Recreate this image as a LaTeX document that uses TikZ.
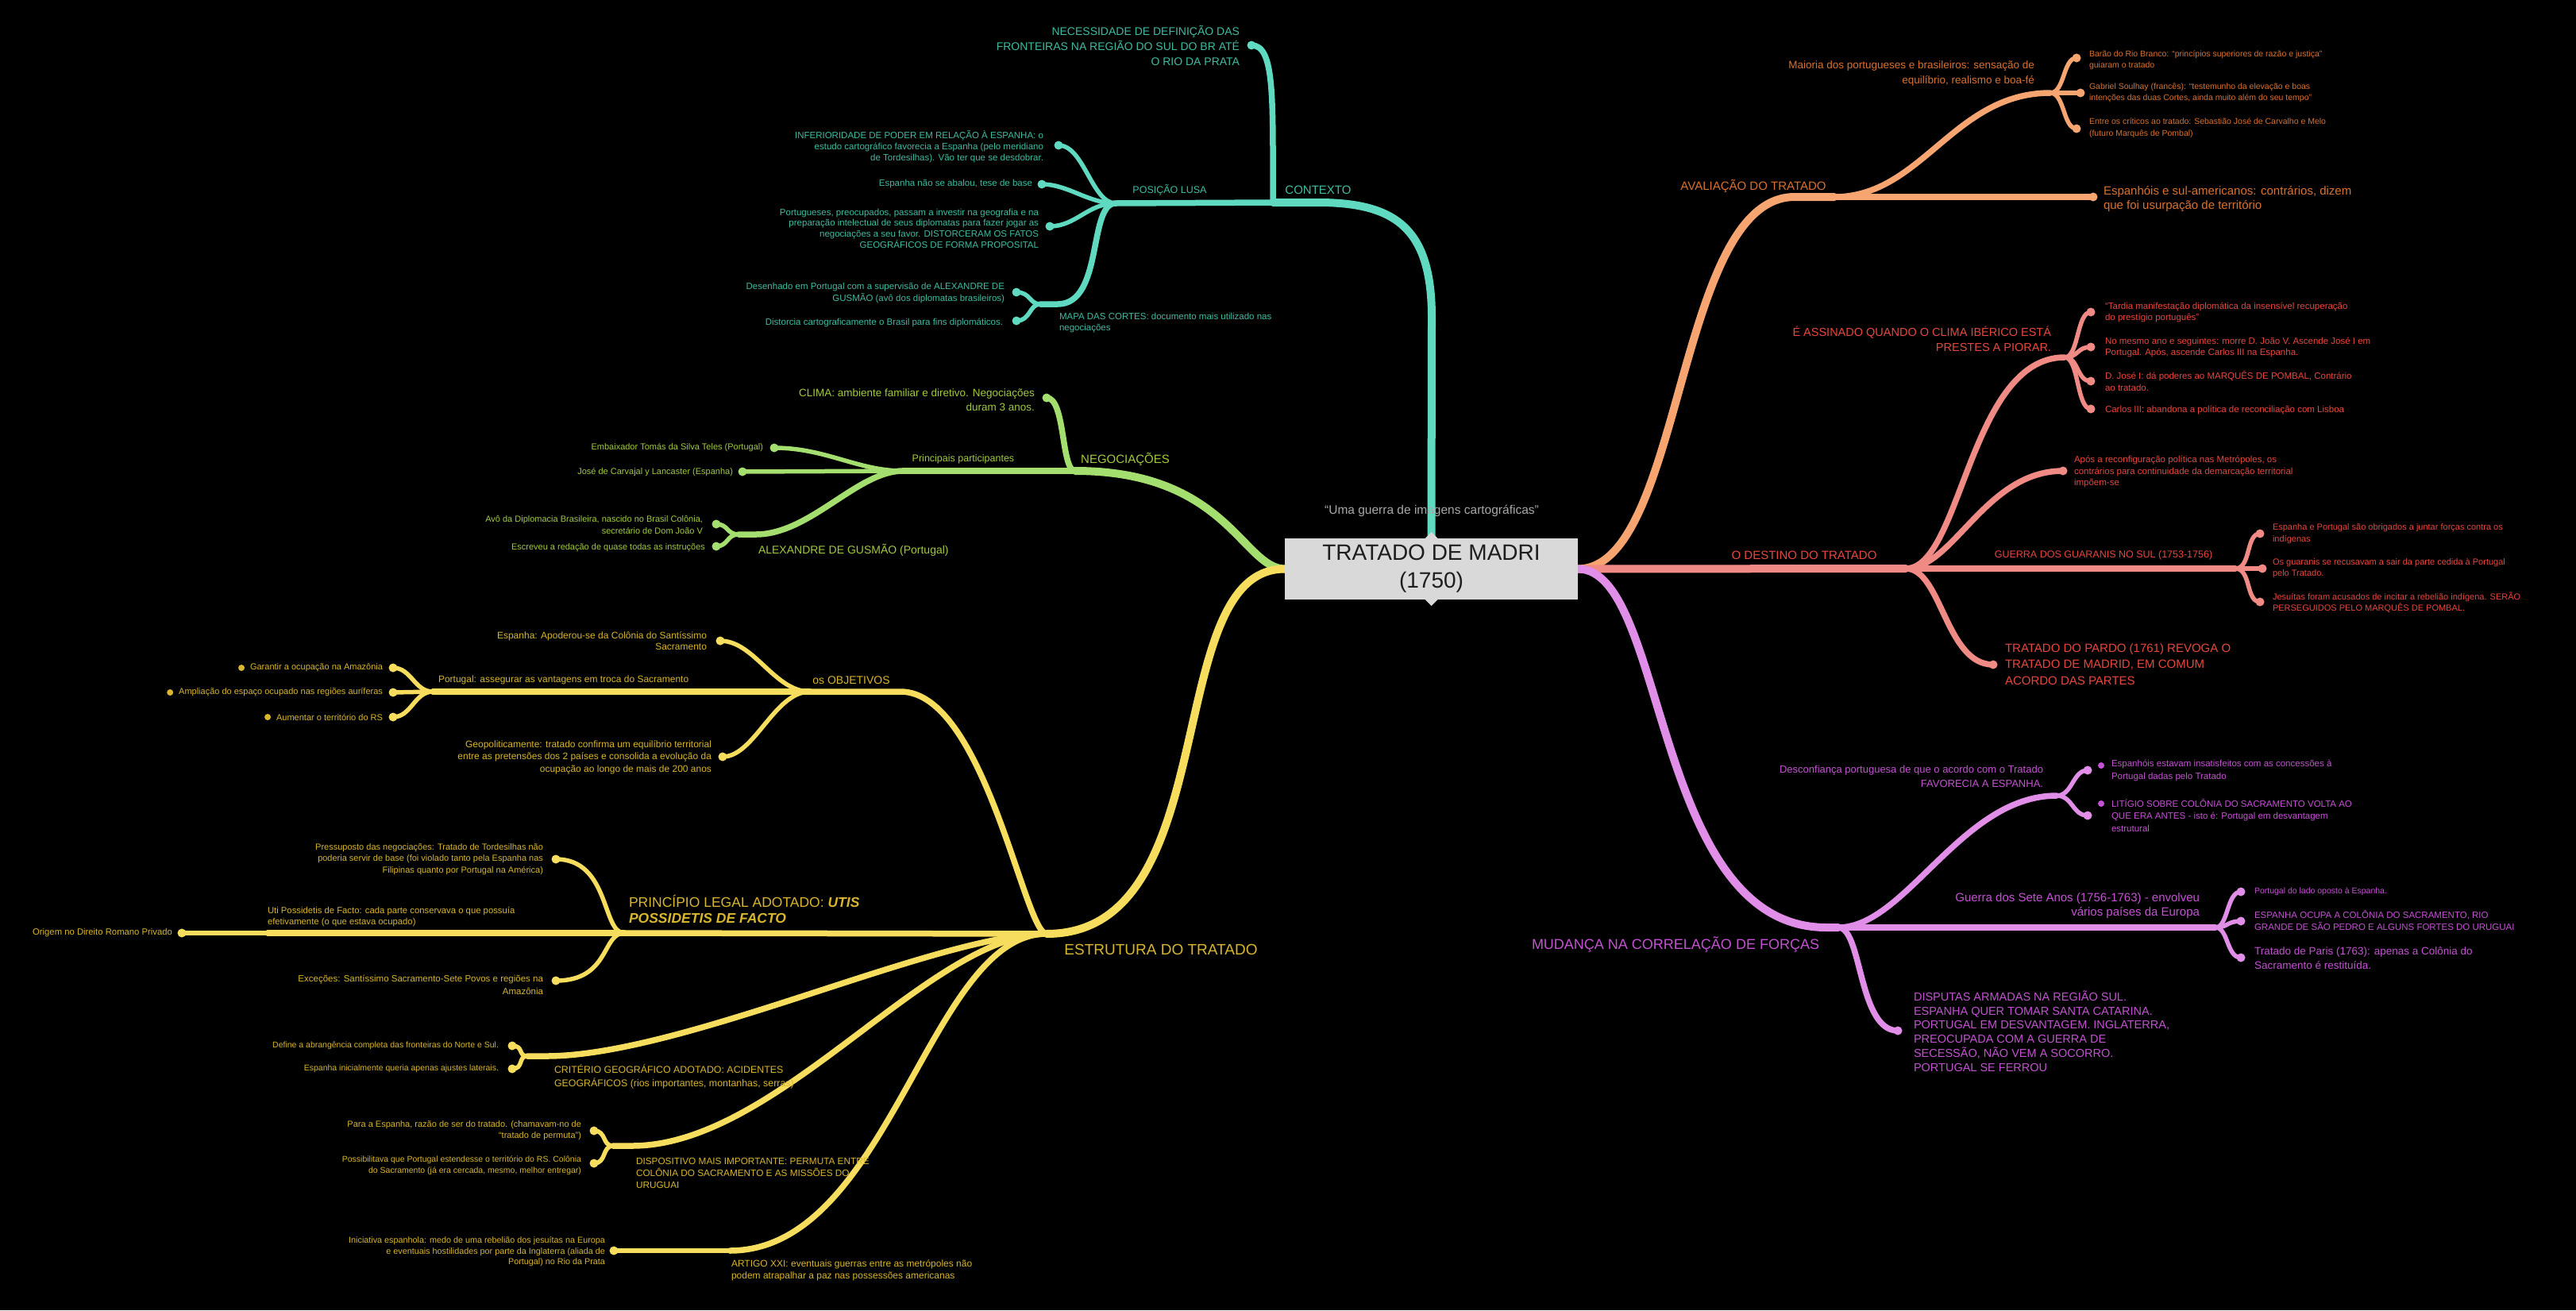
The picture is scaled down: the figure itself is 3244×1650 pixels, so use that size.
\documentclass[tikz,border=0pt]{standalone}
\usepackage{fontspec}
\setmainfont{Liberation Sans}
\pgfdeclarelayer{back}
\pgfdeclarelayer{lines}
\pgfsetlayers{back,lines,main}
\definecolor{tealL}{HTML}{5FD9C0}
\definecolor{tealT}{HTML}{3FBCA2}
\definecolor{greenL}{HTML}{A4DE6E}
\definecolor{greenT}{HTML}{A2CB3C}
\definecolor{yelL}{HTML}{F6DD5E}
\definecolor{yelT}{HTML}{D8B62E}
\definecolor{orgL}{HTML}{F6A470}
\definecolor{orgT}{HTML}{D87230}
\definecolor{redL}{HTML}{F08A85}
\definecolor{redT}{HTML}{E8473F}
\definecolor{purL}{HTML}{E08EE8}
\definecolor{purT}{HTML}{C452D2}
\definecolor{boxC}{HTML}{D9D9D9}
\definecolor{ctrT}{HTML}{1E1E1E}
\definecolor{quoteT}{HTML}{A8A8A8}
\newcommand\fsz[2]{\fontsize{#1}{#2}\selectfont}
\tikzset{
  every node/.style={inner sep=0pt, outer sep=0pt},
  tR/.style={anchor=east, align=right},
  tL/.style={anchor=west, align=left},
  tC/.style={anchor=center, align=center},
  trunk/.style={line width=10pt, line cap=round},
  brl/.style={line width=7.5pt, line cap=round},
  lfl/.style={line width=5.5pt, line cap=round},
  dotn/.style={circle, minimum size=11pt},
  mkn/.style={circle, minimum size=8pt},
}
\begin{document}
\begin{tikzpicture}[x=1pt,y=-1pt]
\begin{pgfonlayer}{back}
\fill[black] (0,0) rectangle (3244,1650);
\end{pgfonlayer}
\useasboundingbox (0,0) rectangle (3244,1650);

% ---------------- center
\node[fill=boxC, minimum width=369pt, minimum height=77pt, tC, text=ctrT, font=\fsz{28}{35}] (ctr) at (1802.5,716.5) {TRATADO DE MADRI\\(1750)};
\fill[boxC] ([xshift=-8pt]ctr.north) -- ([yshift=8pt]ctr.north) -- ([xshift=8pt]ctr.north) -- cycle;
\fill[boxC] ([xshift=-8pt]ctr.south) -- ([yshift=-8pt]ctr.south) -- ([xshift=8pt]ctr.south) -- cycle;
\node[tC, text=quoteT, font=\fsz{15.5}{18}] (quote) at (1803,643) {“Uma guerra de imagens cartográficas”};

% ---------------- TEAL
\begin{scope}[every node/.append style={text=tealT}]
\node[tC, font=\fsz{15}{18}] (ctx) at (1660,239) {CONTEXTO};
\node[tR, font=\fsz{14}{19}] (nec) at (1561,57.5) {NECESSIDADE DE DEFINIÇÃO DAS\\FRONTEIRAS NA REGIÃO DO SUL DO BR ATÉ\\O RIO DA PRATA};
\node[tC, font=\fsz{12.5}{15}] (lusa) at (1473,239) {POSIÇÃO LUSA};
\node[tR, font=\fsz{11.5}{13.7}] (inf) at (1314,184.5) {INFERIORIDADE DE PODER EM RELAÇÃO À ESPANHA: o\\estudo cartográfico favorecia a Espanha (pelo meridiano\\de Tordesilhas). Vão ter que se desdobrar.};
\node[tR, font=\fsz{11.5}{14}] (abal) at (1300,232) {Espanha não se abalou, tese de base};
\node[tR, font=\fsz{11.5}{13.7}] (prep) at (1308,287.5) {Portugueses, preocupados, passam a investir na geografia e na\\preparação intelectual de seus diplomatas para fazer jogar as\\negociações a seu favor. DISTORCERAM OS FATOS\\GEOGRÁFICOS DE FORMA PROPOSITAL};
\node[tL, font=\fsz{11.5}{14}] (mapa) at (1334,407) {MAPA DAS CORTES: documento mais utilizado nas\\negociações};
\node[tR, font=\fsz{11.5}{15}] (desh) at (1265,369.5) {Desenhado em Portugal com a supervisão de ALEXANDRE DE\\GUSMÃO (avô dos diplomatas brasileiros)};
\node[tR, font=\fsz{11.5}{14}] (dist) at (1263,406) {Distorcia cartograficamente o Brasil para fins diplomáticos.};
\end{scope}
\node[dotn, fill=tealL] (dNec) at (1576,57) {};
\node[dotn, fill=tealL] (dInf) at (1333,183) {};
\node[dotn, fill=tealL] (dAbal) at (1312,232) {};
\node[dotn, fill=tealL] (dPrep) at (1322,285) {};
\node[dotn, fill=tealL] (dDesh) at (1280,368) {};
\node[dotn, fill=tealL] (dDist) at (1280,404) {};
\coordinate (jCtx) at (1603,255);
\coordinate (tA) at (1803,400);
\coordinate (tB) at (1660,255);
\coordinate (jLusa) at (1405,256);
\coordinate (jMapa) at (1332,383);
\coordinate (jMapaF) at (1310,383);

% ---------------- GREEN
\begin{scope}[every node/.append style={text=greenT}]
\node[tC, font=\fsz{15}{18}] (neg) at (1417,578) {NEGOCIAÇÕES};
\node[tR, font=\fsz{13.5}{18}] (clima) at (1303,504) {CLIMA: ambiente familiar e diretivo. Negociações\\duram 3 anos.};
\node[tC, font=\fsz{12.5}{15}] (pp) at (1213,578) {Principais participantes};
\node[tR, font=\fsz{11}{14}] (tomas) at (961,564) {Embaixador Tomás da Silva Teles (Portugal)};
\node[tR, font=\fsz{11}{14}] (jose) at (923,595) {José de Carvajal y Lancaster (Espanha)};
\node[tL, font=\fsz{14}{17}] (alex) at (955,693) {ALEXANDRE DE GUSMÃO (Portugal)};
\node[tR, font=\fsz{11}{15}] (avo) at (885,661.5) {Avô da Diplomacia Brasileira, nascido no Brasil Colônia,\\secretário de Dom João V};
\node[tR, font=\fsz{11}{14}] (escr) at (888,690) {Escreveu a redação de quase todas as instruções};
\end{scope}
\node[dotn, fill=greenL] (dClima) at (1318,501) {};
\node[dotn, fill=greenL] (dTomas) at (975,564) {};
\node[dotn, fill=greenL] (dJose) at (935,594) {};
\node[dotn, fill=greenL] (dAvo) at (902,660) {};
\node[dotn, fill=greenL] (dEscr) at (902,688) {};
\coordinate (jNeg) at (1354,593);
\coordinate (jPP) at (1137,593);
\coordinate (jAlex) at (952,673);
\coordinate (jAlexF) at (930,673);

% ---------------- YELLOW
\begin{scope}[every node/.append style={text=yelT}]
\node[tC, font=\fsz{19}{22}] (est) at (1462,1196) {ESTRUTURA DO TRATADO};
\node[tC, font=\fsz{14}{17}] (obj) at (1072,857) {os OBJETIVOS};
\node[tR, font=\fsz{12}{14.5}] (espA) at (890,807) {Espanha: Apoderou-se da Colônia do Santíssimo\\Sacramento};
\node[tL, font=\fsz{12}{15}] (portA) at (552,856) {Portugal: assegurar as vantagens em troca do Sacramento};
\node[tR, font=\fsz{11}{14}] (gar) at (482,841) {Garantir a ocupação na Amazônia};
\node[tR, font=\fsz{11}{14}] (amp) at (482,872) {Ampliação do espaço ocupado nas regiões auríferas};
\node[tR, font=\fsz{11}{14}] (aum) at (482,903) {Aumentar o território do RS};
\node[tR, font=\fsz{12}{15.5}] (geo) at (896,953.5) {Geopoliticamente: tratado confirma um equilíbrio territorial\\entre as pretensões dos 2 países e consolida a evolução da\\ocupação ao longo de mais de 200 anos};
\node[tL, font=\fsz{17.5}{20}] (prin) at (792,1145) {PRINCÍPIO LEGAL ADOTADO: \textbf{\textit{UTIS}}\\\textbf{\textit{POSSIDETIS DE FACTO}}};
\node[tR, font=\fsz{11}{14.5}] (press) at (684,1082) {Pressuposto das negociações: Tratado de Tordesilhas não\\poderia servir de base (foi violado tanto pela Espanha nas\\Filipinas quanto por Portugal na América)};
\node[tL, font=\fsz{11.3}{14}] (uti) at (337,1154) {Uti Possidetis de Facto: cada parte conservava o que possuía\\efetivamente (o que estava ocupado)};
\node[tR, font=\fsz{11.3}{14}] (orig) at (217,1175) {Origem no Direito Romano Privado};
\node[tR, font=\fsz{11.5}{16}] (exc) at (684,1240) {Exceções: Santíssimo Sacramento-Sete Povos e regiões na\\Amazônia};
\node[tL, font=\fsz{12.4}{17}] (crit) at (698,1355.5) {CRITÉRIO GEOGRÁFICO ADOTADO: ACIDENTES\\GEOGRÁFICOS (rios importantes, montanhas, serras)};
\node[tR, font=\fsz{10.5}{13}] (def) at (628,1317) {Define a abrangência completa das fronteiras do Norte e Sul.};
\node[tR, font=\fsz{10.5}{13}] (espI) at (628,1346) {Espanha inicialmente queria apenas ajustes laterais.};
\node[tL, font=\fsz{11.8}{15}] (disp) at (801,1477) {DISPOSITIVO MAIS IMPORTANTE: PERMUTA ENTRE\\COLÔNIA DO SACRAMENTO E AS MISSÕES DO\\URUGUAI};
\node[tR, font=\fsz{11}{14}] (para) at (732,1424) {Para a Espanha, razão de ser do tratado. (chamavam-no de\\“tratado de permuta”)};
\node[tR, font=\fsz{10.5}{13.5}] (poss) at (732,1467.5) {Possibilitava que Portugal estendesse o território do RS. Colônia\\do Sacramento (já era cercada, mesmo, melhor entregar)};
\node[tL, font=\fsz{12}{15}] (art) at (921,1599.5) {ARTIGO XXI: eventuais guerras entre as metrópoles não\\podem atrapalhar a paz nas possessões americanas};
\node[tR, font=\fsz{10.8}{13.5}] (ini) at (762,1576.5) {Iniciativa espanhola: medo de uma rebelião dos jesuítas na Europa\\e eventuais hostilidades por parte da Inglaterra (aliada de\\Portugal) no Rio da Prata};
\end{scope}
\node[mkn, fill=yelT] (mk1) at ([xshift=-11pt]gar.west) {};
\node[mkn, fill=yelT] (mk2) at ([xshift=-11pt]amp.west) {};
\node[mkn, fill=yelT] (mk3) at ([xshift=-11pt]aum.west) {};
\node[dotn, fill=yelL] (dEspA) at (907,807) {};
\node[dotn, fill=yelL] (dGar) at (495,841) {};
\node[dotn, fill=yelL] (dAmp) at (495,872) {};
\node[dotn, fill=yelL] (dAum) at (495,903) {};
\node[dotn, fill=yelL] (dGeo) at (910,953) {};
\node[dotn, fill=yelL] (dPress) at (700,1082) {};
\node[dotn, fill=yelL] (dOrig) at (229,1175) {};
\node[dotn, fill=yelL] (dExc) at (700,1235) {};
\node[dotn, fill=yelL] (dDef) at (645,1317) {};
\node[dotn, fill=yelL] (dEspI) at (645,1346) {};
\node[dotn, fill=yelL] (dPara) at (748,1424) {};
\node[dotn, fill=yelL] (dPoss) at (748,1465) {};
\node[dotn, fill=yelL] (dIni) at (773,1575) {};
\coordinate (jEst) at (1318,1176);
\coordinate (jObj) at (1020,871);
\coordinate (eObj) at (1134,871);
\coordinate (jPort) at (545,871);
\coordinate (jPrin) at (786,1175);
\coordinate (jUti) at (337,1175);
\coordinate (jCrit) at (688,1330);
\coordinate (jCritF) at (664,1330);
\coordinate (jDisp) at (796,1443);
\coordinate (jDispF) at (772,1443);
\coordinate (jArt) at (919,1575);

% ---------------- ORANGE
\begin{scope}[every node/.append style={text=orgT}]
\node[tC, font=\fsz{15}{18}] (aval) at (2208,234) {AVALIAÇÃO DO TRATADO};
\node[tR, font=\fsz{13.5}{19}] (mai) at (2562,92.5) {Maioria dos portugueses e brasileiros: sensação de\\equilíbrio, realismo e boa-fé};
\node[tL, font=\fsz{10.5}{14.5}] (barao) at (2631,75.5) {Barão do Rio Branco: “princípios superiores de razão e justiça”\\guiaram o tratado};
\node[tL, font=\fsz{10.5}{14.5}] (gab) at (2631,117) {Gabriel Soulhay (francês): “testemunho da elevação e boas\\intenções das duas Cortes, ainda muito além do seu tempo”};
\node[tL, font=\fsz{10.5}{14.5}] (entre) at (2631,161) {Entre os críticos ao tratado: Sebastião José de Carvalho e Melo\\(futuro Marquês de Pombal)};
\node[tL, font=\fsz{15}{18}] (espS) at (2649,250.5) {Espanhóis e sul-americanos: contrários, dizem\\que foi usurpação de território};
\end{scope}
\node[dotn, fill=orgL] (dBarao) at (2615,73) {};
\node[dotn, fill=orgL] (dGab) at (2620,117) {};
\node[dotn, fill=orgL] (dEntre) at (2615,162) {};
\node[dotn, fill=orgL] (dEspS) at (2636,248) {};
\coordinate (eAval) at (2260,248);
\coordinate (jAval) at (2310,248);
\coordinate (jMai) at (2582,117);

% ---------------- RED
\begin{scope}[every node/.append style={text=redT}]
\node[tC, font=\fsz{15}{18}] (dest) at (2272,699) {O DESTINO DO TRATADO};
\node[tR, font=\fsz{14.5}{19}] (ass) at (2583,426.5) {É ASSINADO QUANDO O CLIMA IBÉRICO ESTÁ\\PRESTES A PIORAR.};
\node[tL, font=\fsz{11.5}{14}] (tard) at (2651,393) {“Tardia manifestação diplomática da insensível recuperação\\do prestígio português”};
\node[tL, font=\fsz{11.5}{14}] (mesmo) at (2651,437) {No mesmo ano e seguintes: morre D. João V. Ascende José I em\\Portugal. Após, ascende Carlos III na Espanha.};
\node[tL, font=\fsz{11.5}{15}] (joseI) at (2651,480.5) {D. José I: dá poderes ao MARQUÊS DE POMBAL, Contrário\\ao tratado.};
\node[tL, font=\fsz{11.5}{14}] (carlos) at (2651,516) {Carlos III: abandona a política de reconciliação com Lisboa};
\node[tL, font=\fsz{11.5}{14.5}] (apos) at (2612,594) {Após a reconfiguração política nas Metrópoles, os\\contrários para continuidade da demarcação territorial\\impõem-se};
\node[tC, font=\fsz{12.5}{15}] (guer) at (2649,699) {GUERRA DOS GUARANIS NO SUL (1753-1756)};
\node[tL, font=\fsz{11}{15}] (espP) at (2862,672.5) {Espanha e Portugal são obrigados a juntar forças contra os\\indígenas};
\node[tL, font=\fsz{11}{14}] (gua) at (2862,716) {Os guaranis se recusavam a sair da parte cedida à Portugal\\pelo Tratado.};
\node[tL, font=\fsz{11}{14}] (jes) at (2862,759) {Jesuítas foram acusados de incitar a rebelião indígena. SERÃO\\PERSEGUIDOS PELO MARQUÊS DE POMBAL.};
\node[tL, font=\fsz{15}{20.5}] (pardo) at (2525,836.5) {TRATADO DO PARDO (1761) REVOGA O\\TRATADO DE MADRID, EM COMUM\\ACORDO DAS PARTES};
\end{scope}
\node[dotn, fill=redL] (dTard) at (2633,393) {};
\node[dotn, fill=redL] (dMesmo) at (2633,437) {};
\node[dotn, fill=redL] (dJoseI) at (2633,480) {};
\node[dotn, fill=redL] (dCarlos) at (2633,515) {};
\node[dotn, fill=redL] (dApos) at (2598,593) {};
\node[dotn, fill=redL] (dEspP) at (2846,672) {};
\node[dotn, fill=redL] (dGua) at (2849,716) {};
\node[dotn, fill=redL] (dJes) at (2846,758) {};
\node[dotn, fill=redL] (dPardo) at (2510,837) {};
\coordinate (jDest) at (2400,716);
\coordinate (jAss) at (2600,450);
\coordinate (jGuer) at (2815,716);

% ---------------- PURPLE
\begin{scope}[every node/.append style={text=purT}]
\node[tC, font=\fsz{18}{21}] (mud) at (2110,1189) {MUDANÇA NA CORRELAÇÃO DE FORÇAS};
\node[tR, font=\fsz{13}{18}] (desc) at (2573,978) {Desconfiança portuguesa de que o acordo com o Tratado\\FAVORECIA A ESPANHA.};
\node[tL, font=\fsz{11.5}{15.5}] (insat) at (2659,970.5) {Espanhóis estavam insatisfeitos com as concessões à\\Portugal dadas pelo Tratado};
\node[tL, font=\fsz{11.5}{15.5}] (lit) at (2659,1027) {LITÍGIO SOBRE COLÔNIA DO SACRAMENTO VOLTA AO\\QUE ERA ANTES - isto é: Portugal em desvantagem\\estrutural};
\node[tR, font=\fsz{15}{18}] (sete) at (2770,1141) {Guerra dos Sete Anos (1756-1763) - envolveu\\vários países da Europa};
\node[tL, font=\fsz{10.5}{14}] (lado) at (2839,1123) {Portugal do lado oposto à Espanha.};
\node[tL, font=\fsz{11.5}{15}] (ocupa) at (2839,1159.5) {ESPANHA OCUPA A COLÔNIA DO SACRAMENTO, RIO\\GRANDE DE SÃO PEDRO E ALGUNS FORTES DO URUGUAI};
\node[tL, font=\fsz{13.5}{18}] (paris) at (2839,1207) {Tratado de Paris (1763): apenas a Colônia do\\Sacramento é restituída.};
\node[tL, font=\fsz{14.5}{17.8}] (disq) at (2410,1298.5) {DISPUTAS ARMADAS NA REGIÃO SUL.\\ESPANHA QUER TOMAR SANTA CATARINA.\\PORTUGAL EM DESVANTAGEM. INGLATERRA,\\PREOCUPADA COM A GUERRA DE\\SECESSÃO, NÃO VEM A SOCORRO.\\PORTUGAL SE FERROU};
\end{scope}
\node[mkn, fill=purT] (pm1) at (2646,964) {};
\node[mkn, fill=purT] (pm2) at (2646,1012) {};
\node[dotn, fill=purL] (dInsat) at (2629,970) {};
\node[dotn, fill=purL] (dLit) at (2629,1027) {};
\node[dotn, fill=purL] (dLado) at (2822,1123) {};
\node[dotn, fill=purL] (dOcupa) at (2822,1160) {};
\node[dotn, fill=purL] (dParis) at (2822,1206) {};
\node[dotn, fill=purL] (dDisq) at (2390,1298) {};
\coordinate (eMud) at (2300,1168);
\coordinate (jMud) at (2315,1168);
\coordinate (jDes) at (2590,1002);
\coordinate (jSete) at (2790,1168);

% ================= CONNECTORS
\begin{pgfonlayer}{lines}
% teal
\draw[trunk, tealL] (ctr.north) -- (tA) .. controls (1803,290) and (1760,255) .. (tB) -- (jCtx);
\draw[brl, tealL] (jCtx) -- (jLusa);
\draw[brl, tealL] (jCtx) .. controls (1603,120) and (1605,57) .. (dNec.center);
\draw[lfl, tealL] (jLusa) .. controls (1375,256) and (1365,183) .. (dInf.center);
\draw[lfl, tealL] (jLusa) .. controls (1370,256) and (1345,232) .. (dAbal.center);
\draw[lfl, tealL] (jLusa) .. controls (1370,256) and (1355,285) .. (dPrep.center);
\draw[brl, tealL] (jLusa) .. controls (1370,256) and (1390,383) .. (jMapa) -- (jMapaF);
\draw[lfl, tealL] (jMapaF) .. controls (1296,383) and (1298,368) .. (dDesh.center);
\draw[lfl, tealL] (jMapaF) .. controls (1296,383) and (1298,404) .. (dDist.center);
% green
\draw[trunk, greenL] (ctr.west) .. controls (1565,716) and (1545,593) .. (jNeg);
\draw[brl, greenL] (jNeg) .. controls (1336,593) and (1342,501) .. (dClima.center);
\draw[brl, greenL] (jNeg) -- (jPP);
\draw[lfl, greenL] (jPP) .. controls (1080,593) and (1040,564) .. (dTomas.center);
\draw[lfl, greenL] (jPP) -- (dJose.center);
\draw[brl, greenL] (jPP) .. controls (1080,593) and (1020,673) .. (jAlex) -- (jAlexF);
\draw[lfl, greenL] (jAlexF) .. controls (915,673) and (917,660) .. (dAvo.center);
\draw[lfl, greenL] (jAlexF) .. controls (915,673) and (917,688) .. (dEscr.center);
% yellow
\draw[trunk, yelL] (ctr.west) .. controls (1460,716) and (1545,1176) .. (jEst);
\draw[brl, yelL] (jEst) .. controls (1290,1176) and (1240,871) .. (eObj) -- (jObj);
\draw[lfl, yelL] (jObj) .. controls (975,871) and (950,807) .. (dEspA.center);
\draw[brl, yelL] (jObj) -- (jPort);
\draw[lfl, yelL] (jPort) .. controls (522,871) and (518,841) .. (dGar.center);
\draw[lfl, yelL] (jPort) -- (dAmp.center);
\draw[lfl, yelL] (jPort) .. controls (522,871) and (518,903) .. (dAum.center);
\draw[lfl, yelL] (jObj) .. controls (975,871) and (950,953) .. (dGeo.center);
\draw[brl, yelL] (jEst) -- (jPrin);
\draw[lfl, yelL] (jPrin) .. controls (758,1175) and (768,1082) .. (dPress.center);
\draw[brl, yelL] (jPrin) -- (jUti);
\draw[lfl, yelL] (jUti) -- (dOrig.center);
\draw[lfl, yelL] (jPrin) .. controls (758,1175) and (768,1235) .. (dExc.center);
\draw[brl, yelL] (jEst) .. controls (1180,1176) and (860,1330) .. (jCrit) -- (jCritF);
\draw[lfl, yelL] (jCritF) .. controls (652,1330) and (660,1317) .. (dDef.center);
\draw[lfl, yelL] (jCritF) .. controls (652,1330) and (660,1346) .. (dEspI.center);
\draw[brl, yelL] (jEst) .. controls (1170,1176) and (980,1443) .. (jDisp) -- (jDispF);
\draw[lfl, yelL] (jDispF) .. controls (758,1443) and (764,1424) .. (dPara.center);
\draw[lfl, yelL] (jDispF) .. controls (758,1443) and (764,1465) .. (dPoss.center);
\draw[brl, yelL] (jEst) .. controls (1170,1176) and (1120,1575) .. (jArt);
\draw[lfl, yelL] (jArt) -- (dIni.center);
% orange
\draw[trunk, orgL] (ctr.east) .. controls (2120,716) and (2110,248) .. (eAval) -- (jAval);
\draw[brl, orgL] (jAval) .. controls (2420,248) and (2460,117) .. (jMai);
\draw[lfl, orgL] (jMai) .. controls (2600,117) and (2598,73) .. (dBarao.center);
\draw[lfl, orgL] (jMai) -- (dGab.center);
\draw[lfl, orgL] (jMai) .. controls (2600,117) and (2598,162) .. (dEntre.center);
\draw[brl, orgL] (jAval) -- (dEspS.center);
% red
\draw[trunk, redL] (ctr.east) -- (jDest);
\draw[brl, redL] (jDest) .. controls (2470,716) and (2480,450) .. (jAss);
\draw[lfl, redL] (jAss) .. controls (2618,450) and (2615,393) .. (dTard.center);
\draw[lfl, redL] (jAss) .. controls (2618,450) and (2615,437) .. (dMesmo.center);
\draw[lfl, redL] (jAss) .. controls (2618,450) and (2615,480) .. (dJoseI.center);
\draw[lfl, redL] (jAss) .. controls (2618,450) and (2615,515) .. (dCarlos.center);
\draw[brl, redL] (jDest) .. controls (2460,716) and (2500,593) .. (dApos.center);
\draw[brl, redL] (jDest) -- (jGuer);
\draw[lfl, redL] (jGuer) .. controls (2835,716) and (2828,672) .. (dEspP.center);
\draw[lfl, redL] (jGuer) -- (dGua.center);
\draw[lfl, redL] (jGuer) .. controls (2835,716) and (2828,758) .. (dJes.center);
\draw[brl, redL] (jDest) .. controls (2445,716) and (2450,837) .. (dPardo.center);
% purple
\draw[trunk, purL] (ctr.east) .. controls (2100,716) and (2080,1168) .. (eMud) -- (jMud);
\draw[brl, purL] (jMud) .. controls (2400,1168) and (2470,1002) .. (jDes);
\draw[lfl, purL] (jDes) .. controls (2610,1002) and (2610,970) .. (dInsat.center);
\draw[lfl, purL] (jDes) .. controls (2610,1002) and (2610,1027) .. (dLit.center);
\draw[brl, purL] (jMud) -- (jSete);
\draw[lfl, purL] (jSete) .. controls (2806,1168) and (2804,1123) .. (dLado.center);
\draw[lfl, purL] (jSete) .. controls (2806,1168) and (2804,1160) .. (dOcupa.center);
\draw[lfl, purL] (jSete) .. controls (2806,1168) and (2804,1206) .. (dParis.center);
\draw[brl, purL] (jMud) .. controls (2345,1168) and (2340,1298) .. (dDisq.center);
\end{pgfonlayer}
\end{tikzpicture}
\end{document}
